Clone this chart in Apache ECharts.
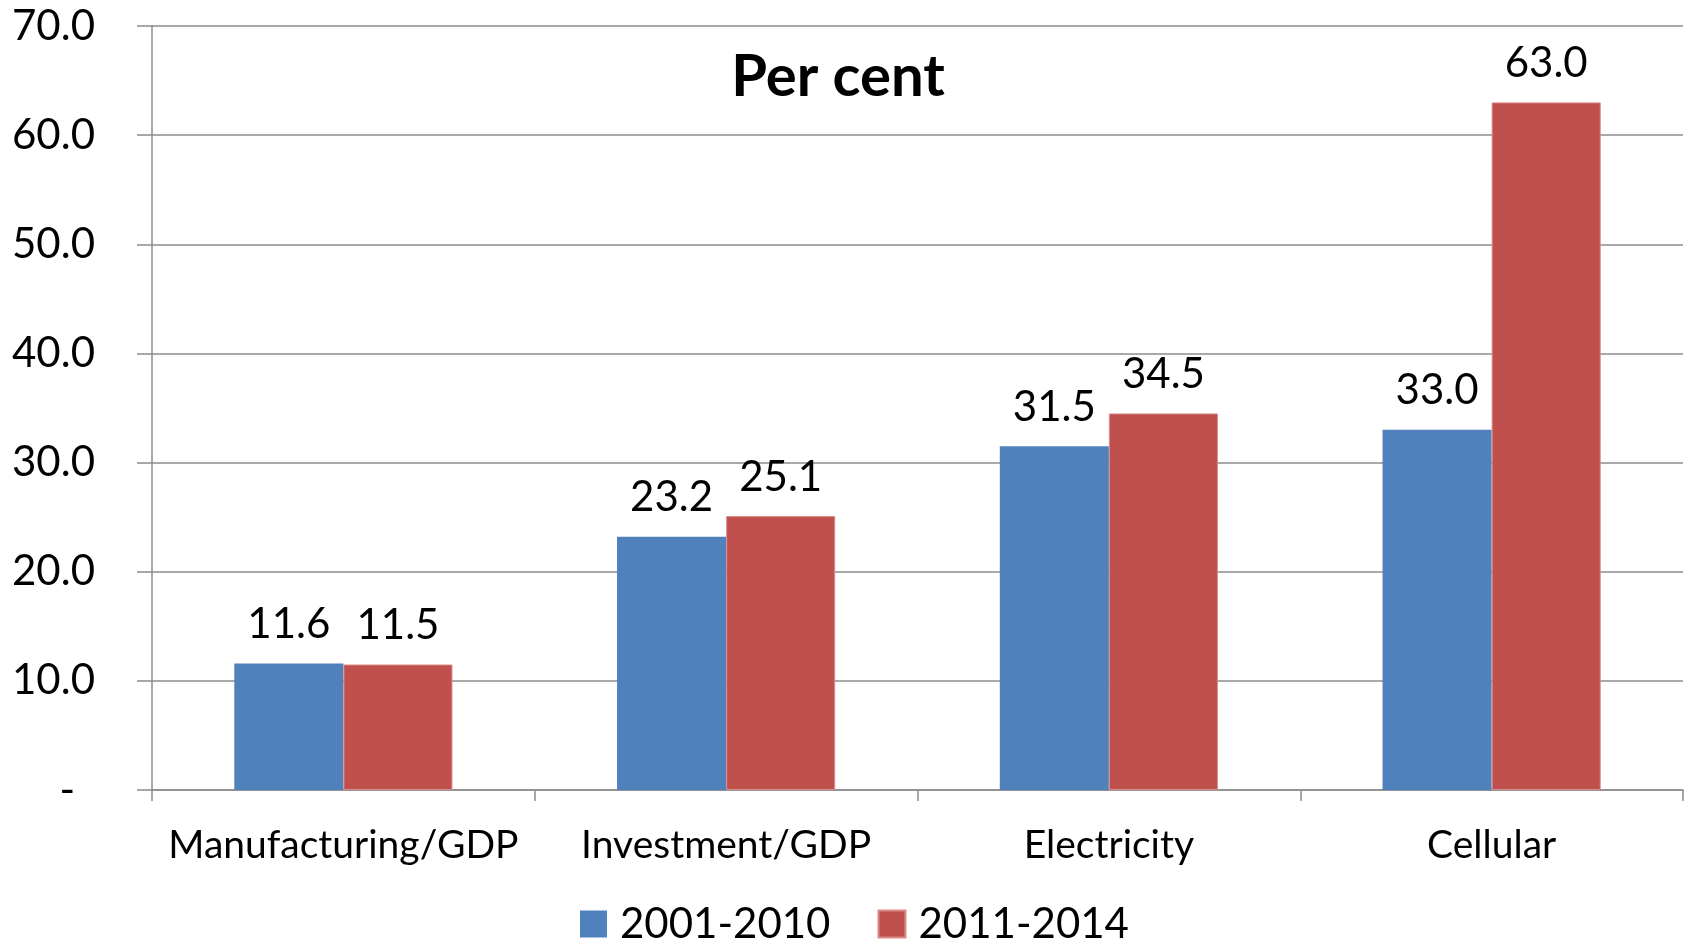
<!DOCTYPE html>
<html>
<head>
<meta charset="utf-8">
<script src="https://cdn.jsdelivr.net/npm/echarts@6/dist/echarts.min.js"></script>
<style>
html,body{margin:0;padding:0;background:#fff;}
#chart{width:1686px;height:940px;}
</style>
</head>
<body>
<div id="chart"></div>
<script>
const categories = ['Manufacturing/GDP', 'Investment/GDP', 'Electricity', 'Cellular'];
const seriesNames = ['2001-2010', '2011-2014'];
const values2001_2010 = [11.6, 23.2, 31.5, 33.0];
const values2011_2014 = [11.5, 25.1, 34.5, 63.0];
const titleText = 'Per cent';

const FONT = 'Lato';
const chart = echarts.init(document.getElementById('chart'));
const labelCfg = {
  show: true,
  position: 'top',
  distance: 18,
  color: '#000',
  fontFamily: FONT,
  fontSize: 42,
  formatter: p => p.value.toFixed(1)
};
chart.setOption({
  animation: false,
  backgroundColor: '#fff',
  color: ['#4F81BD', '#C0504D'],
  title: {
    text: titleText,
    left: 833,
    top: 43,
    textAlign: 'center',
    textStyle: {fontFamily: FONT, fontWeight: 'bold', fontSize: 58, color: '#000'}
  },
  legend: {
    data: seriesNames,
    left: 575,
    top: 898,
    itemWidth: 27,
    itemHeight: 27,
    itemGap: 47,
    icon: 'rect',
    textStyle: {fontFamily: FONT, fontSize: 42, color: '#000', padding: [0, 0, 0, 8]}
  },
  grid: {left: 152, right: 3, top: 26, bottom: 150, containLabel: false},
  xAxis: {
    type: 'category',
    data: categories,
    axisLine: {show: true, lineStyle: {color: '#8c8c8c', width: 1.5}},
    axisTick: {show: true, length: 11, lineStyle: {color: '#8c8c8c', width: 1.5}},
    axisLabel: {fontFamily: FONT, fontSize: 39, color: '#000', margin: 36, interval: 0}
  },
  yAxis: {
    type: 'value',
    min: 0,
    max: 70,
    interval: 10,
    axisLine: {show: true, lineStyle: {color: '#8c8c8c', width: 1.5}},
    axisTick: {show: true, length: 15, lineStyle: {color: '#8c8c8c', width: 1.5}},
    splitLine: {show: true, lineStyle: {color: '#8c8c8c', width: 1.5}},
    axisLabel: {
      fontFamily: FONT, fontSize: 42, color: '#000', margin: 57,
      formatter: v => v === 0 ? '{d|-}' : v.toFixed(1),
      rich: {d: {fontFamily: FONT, fontSize: 42, color: '#000', padding: [0, 20, 0, 0]}}
    }
  },
  series: [
    {name: seriesNames[0], type: 'bar', data: values2001_2010, barGap: '0%', barCategoryGap: '43%', label: labelCfg},
    {name: seriesNames[1], type: 'bar', data: values2011_2014, barGap: '0%', barCategoryGap: '43%', label: labelCfg,
     itemStyle: {borderColor: '#d98c8a', borderWidth: 1}}
  ]
});
</script>
</body>
</html>
